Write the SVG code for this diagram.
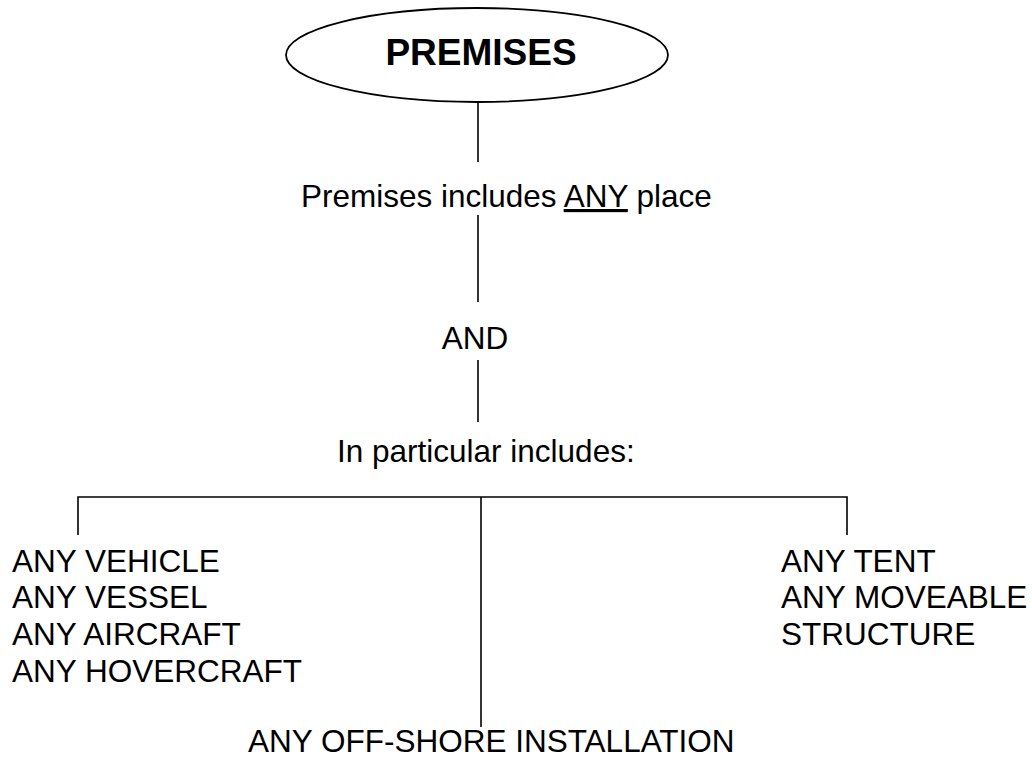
<svg xmlns="http://www.w3.org/2000/svg" width="1032" height="757" viewBox="0 0 1032 757">
<style>
.t{font-family:"Liberation Sans",Arial,sans-serif;font-size:31.5px;fill:#000}
.c{stroke:#000;stroke-width:1.6;fill:none}
</style>
<rect width="1032" height="757" fill="#fff"/>
<g id="premises">
<ellipse cx="477" cy="55" rx="191" ry="47" fill="#fff" stroke="#000" stroke-width="1.8"/>
<text x="481" y="65" text-anchor="middle" class="t" style="font-weight:bold;font-size:37px">PREMISES</text>
</g>
<g id="any-place">
<text x="301" y="207" class="t">Premises includes <tspan text-decoration="underline">ANY</tspan> place</text>
</g>
<g id="and">
<text x="475" y="349" text-anchor="middle" class="t">AND</text>
</g>
<g id="in-particular">
<text x="337" y="462" class="t">In particular includes:</text>
</g>
<g id="vehicles">
<text x="12" y="572" class="t">ANY VEHICLE</text>
<text x="12" y="608" class="t">ANY VESSEL</text>
<text x="12" y="645" class="t">ANY AIRCRAFT</text>
<text x="12" y="682" class="t">ANY HOVERCRAFT</text>
</g>
<g id="tent">
<text x="781" y="572" class="t">ANY TENT</text>
<text x="781" y="608" class="t">ANY MOVEABLE</text>
<text x="781" y="645" class="t">STRUCTURE</text>
</g>
<g id="offshore">
<text x="248" y="752" class="t">ANY OFF-SHORE INSTALLATION</text>
</g>
<g id="connectors" class="c">
<line x1="478" y1="102" x2="478" y2="162"/>
<line x1="478" y1="215" x2="478" y2="302"/>
<line x1="478" y1="360" x2="478" y2="422"/>
<polyline points="78,535 78,497 847,497 847,535"/>
<line x1="481" y1="497" x2="481" y2="727"/>
</g>
</svg>
